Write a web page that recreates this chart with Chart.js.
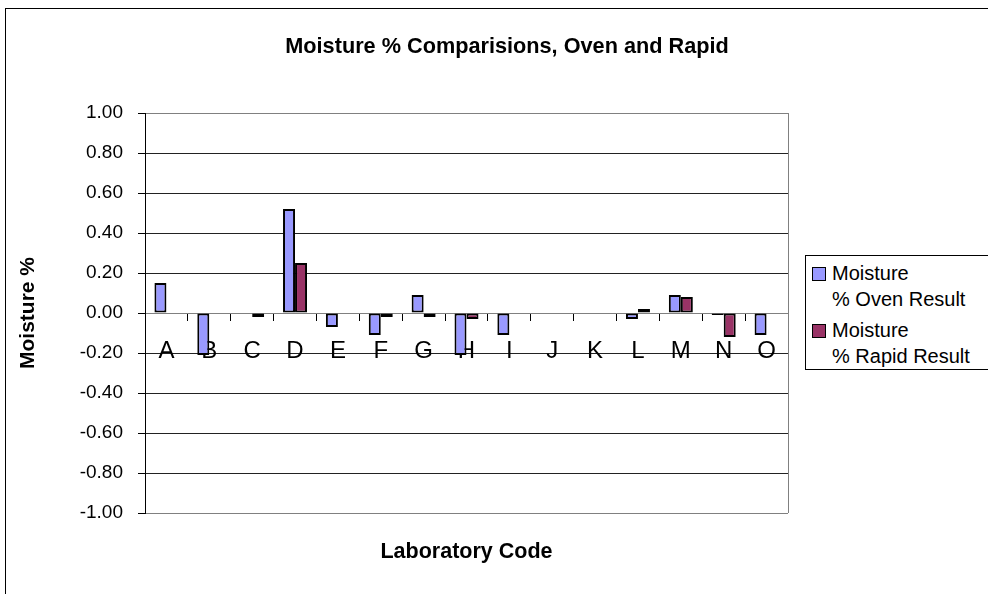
<!DOCTYPE html>
<html>
<head>
<meta charset="utf-8">
<script src="https://cdn.jsdelivr.net/npm/chart.js@4"></script>
<style>
  html, body { margin: 0; padding: 0; background: #fff; overflow: hidden; }
  body { width: 988px; height: 594px; position: relative; font-family: "Liberation Sans", Arial, sans-serif; }
  #wrap { position: absolute; left: 0; top: 0; width: 1014px; height: 594px; }
  #frame { position: absolute; left: 5px; top: 8px; width: 1100px; height: 700px; border: 1px solid #000; pointer-events: none; }
  #legend { position: absolute; left: 805px; top: 255px; width: 200px; height: 113px; border: 1px solid #000; background: #fff; font-size: 20px; color: #000; }
  .item { position: relative; margin-left: 26px; line-height: 26px; }
  .item:first-child { margin-top: 4px; }
  .item + .item { margin-top: 5px; }
  .swatch { position: absolute; left: -20px; top: 7px; width: 12px; height: 12px; border: 1px solid #000; }
</style>
</head>
<body>
<div id="wrap"><canvas id="moistureChart" width="1014" height="594"></canvas></div>
<div id="frame"></div>
<div id="legend"></div>
<script>
const labCodes = ['A', 'B', 'C', 'D', 'E', 'F', 'G', 'H', 'I', 'J', 'K', 'L', 'M', 'N', 'O'];
const ovenResult = [0.15, -0.21, null, 0.52, -0.07, -0.11, 0.09, -0.21, -0.11, null, null, -0.03, 0.09, -0.01, -0.11];
const rapidResult = [null, null, -0.02, 0.25, null, -0.02, -0.02, -0.03, null, null, null, 0.02, 0.08, -0.12, null];
const seriesNames = ['Moisture % Oven Result', 'Moisture % Rapid Result'];
const yTickValues = [-1, -0.8, -0.6, -0.4, -0.2, 0, 0.2, 0.4, 0.6, 0.8, 1];
const yTickLabels = ['-1.00', '-0.80', '-0.60', '-0.40', '-0.20', '0.00', '0.20', '0.40', '0.60', '0.80', '1.00'];

const seriesColors = ['#9999FF', '#993366'];
const fontFamily = '"Liberation Sans", Arial, sans-serif';

// gray frame on the right side of the plot
const plotFrame = {
    id: 'plotFrame',
    beforeDatasetsDraw(chart) {
        const { ctx, chartArea: a } = chart;
        ctx.save();
        ctx.strokeStyle = '#808080';
        ctx.lineWidth = 1;
        ctx.beginPath();
        ctx.moveTo(Math.round(a.right) + 0.5, a.top);
        ctx.lineTo(Math.round(a.right) + 0.5, a.bottom);
        ctx.stroke();
        ctx.restore();
    }
};

function isEdge(v) {
    return Math.abs(v) < 1e-9 || Math.abs(Math.abs(v) - 1) < 1e-9;
}

const ctx = document.getElementById('moistureChart').getContext('2d');
new Chart(ctx, {
    type: 'bar',
    data: {
        labels: labCodes,
        datasets: [ovenResult, rapidResult].map((values, i) => ({
            label: seriesNames[i],
            data: values,
            backgroundColor: seriesColors[i],
            borderColor: '#000',
            borderWidth: 2,
            borderSkipped: false,
            categoryPercentage: 0.56,
            barPercentage: 1.0,
            xAxisID: 'x'
        }))
    },
    options: {
        responsive: false,
        animation: false,
        devicePixelRatio: 1,
        plugins: {
            legend: { display: false },
            tooltip: { enabled: false },
            title: {
                display: true,
                text: 'Moisture % Comparisions, Oven and Rapid',
                color: '#000',
                font: { family: fontFamily, size: 21.7, weight: 'bold' },
                padding: { top: 34, bottom: 53 }
            }
        },
        scales: {
            x: {
                type: 'category',
                position: { y: 0 },
                offset: true,
                grid: { display: true, drawOnChartArea: false, drawTicks: true, tickLength: 7, color: '#000', offset: true },
                border: { display: true, color: '#808080', width: 1 },
                ticks: {
                    color: '#000',
                    font: { family: fontFamily, size: 24 },
                    padding: 17,
                    autoSkip: false,
                    maxRotation: 0
                }
            },
            x2: {
                type: 'category',
                position: 'bottom',
                grid: { display: false, drawTicks: false },
                border: { display: false },
                ticks: { display: false },
                title: {
                    display: true,
                    text: 'Laboratory Code',
                    color: '#000',
                    font: { family: fontFamily, size: 21.5, weight: 'bold' },
                    padding: { top: 0, bottom: 29 }
                },
                afterFit: s => { s.height = 81; }
            },
            y: {
                position: 'left',
                min: -1,
                max: 1,
                afterBuildTicks: s => { s.ticks = yTickValues.map(v => ({ value: v })); },
                ticks: {
                    color: '#000',
                    font: { family: fontFamily, size: 19 },
                    padding: 15,
                    callback: (value, index) => yTickLabels[index]
                },
                grid: {
                    color: c => (c.tick && isEdge(c.tick.value)) ? '#808080' : '#222',
                    tickColor: '#000',
                    tickLength: 7,
                    lineWidth: 1
                },
                border: { display: true, color: '#000', width: 1 },
                title: {
                    display: true,
                    text: 'Moisture %',
                    color: '#000',
                    font: { family: fontFamily, size: 21, weight: 'bold' },
                    padding: { top: 16, bottom: 0 }
                },
                afterFit: s => { s.width = 145; }
            },
            yRight: {
                position: 'right',
                min: -1,
                max: 1,
                grid: { display: false, drawTicks: false },
                border: { display: false },
                ticks: { display: false },
                afterFit: s => { s.width = 226; }
            }
        }
    },
    plugins: [plotFrame]
});

// HTML legend with the series names broken after the first word
const legendBox = document.getElementById('legend');
seriesNames.forEach((name, i) => {
    const cut = name.indexOf(' ');
    const item = document.createElement('div');
    item.className = 'item';
    item.innerHTML = `<span class="swatch" style="background:${seriesColors[i]}"></span>${name.slice(0, cut)}<br>${name.slice(cut + 1)}`;
    legendBox.appendChild(item);
});
</script>
</body>
</html>
